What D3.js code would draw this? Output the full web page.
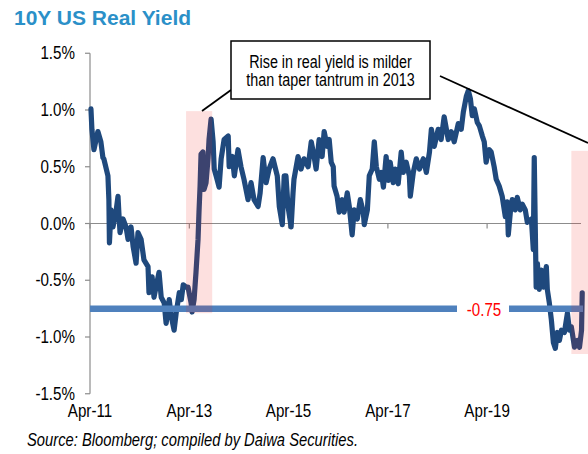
<!DOCTYPE html>
<html>
<head>
<meta charset="utf-8">
<script src="https://cdn.jsdelivr.net/npm/d3@7"></script>
<style>
  body { margin: 0; background: #fff; }
  text { font-family: "Liberation Sans", Arial, sans-serif; }
</style>
</head>
<body>
<svg id="chart"></svg>
<script>
// 10Y US real yield, %
var dates = [
  "2011-04-08","2011-04-15","2011-04-30","2011-05-29","2011-06-20","2011-07-05","2011-07-12","2011-08-11",
  "2011-08-18","2011-08-22","2011-09-03","2011-09-17","2011-10-09","2011-10-24","2011-11-01","2011-11-08",
  "2011-11-30","2011-12-22","2012-01-06","2012-01-28","2012-02-12","2012-03-05","2012-03-19","2012-04-11",
  "2012-05-02","2012-06-01","2012-06-08","2012-07-01","2012-07-15","2012-07-30","2012-08-21","2012-09-06",
  "2012-09-28","2012-10-12","2012-11-04","2012-11-19","2012-12-10","2012-12-25","2013-01-17","2013-02-01",
  "2013-02-15","2013-03-08","2013-03-22","2013-04-14","2013-04-21","2013-05-06","2013-05-20","2013-06-04",
  "2013-06-11","2013-06-19","2013-06-26","2013-07-10","2013-07-18","2013-08-02","2013-08-17","2013-08-24",
  "2013-09-08","2013-09-23","2013-10-01","2013-10-15","2013-11-06","2013-11-21","2013-12-13","2014-01-12",
  "2014-01-19","2014-02-11","2014-02-26","2014-03-25","2014-04-16","2014-05-08","2014-06-07","2014-06-29",
  "2014-07-21","2014-08-20","2014-09-04","2014-09-26","2014-10-18","2014-11-09","2014-12-08","2015-01-08",
  "2015-01-23","2015-02-14","2015-02-28","2015-03-13","2015-03-28","2015-04-20","2015-05-04","2015-05-11",
  "2015-06-10","2015-07-02","2015-07-24","2015-08-23","2015-09-15","2015-10-06","2015-10-21","2015-11-12",
  "2015-12-04","2015-12-19","2016-01-10","2016-01-25","2016-02-09","2016-02-24","2016-03-01","2016-03-23",
  "2016-04-08","2016-04-30","2016-05-14","2016-06-06","2016-06-21","2016-07-12","2016-07-27","2016-08-19",
  "2016-09-10","2016-10-02","2016-10-09","2016-11-01","2016-11-15","2016-12-07","2016-12-22","2017-01-06",
  "2017-01-28","2017-02-12","2017-02-27","2017-03-19","2017-04-03","2017-04-18","2017-05-10","2017-05-25",
  "2017-06-16","2017-07-08","2017-07-23","2017-08-14","2017-09-06","2017-09-13","2017-10-05","2017-10-27",
  "2017-11-19","2017-12-18","2018-01-09","2018-02-01","2018-02-15","2018-03-08","2018-04-06","2018-04-28",
  "2018-05-20","2018-06-19","2018-07-11","2018-08-02","2018-09-01","2018-09-23","2018-10-08","2018-10-30",
  "2018-11-14","2018-11-29","2018-12-13","2018-12-28","2019-01-19","2019-02-03","2019-02-25","2019-03-11",
  "2019-03-25","2019-04-02","2019-04-17","2019-05-01","2019-05-23","2019-06-07","2019-06-29","2019-07-21",
  "2019-08-13","2019-08-27","2019-09-04","2019-09-19","2019-10-03","2019-10-25","2019-11-09","2019-12-01",
  "2019-12-16","2020-01-07","2020-01-22","2020-02-21","2020-03-06","2020-03-13","2020-03-20","2020-03-27",
  "2020-04-05","2020-04-19","2020-05-04","2020-05-19","2020-06-10","2020-06-17","2020-07-02","2020-07-17",
  "2020-08-01","2020-08-15","2020-08-30","2020-09-14","2020-09-29","2020-10-21","2020-11-12","2020-11-27",
  "2020-12-11","2021-01-03","2021-01-25","2021-02-09","2021-02-24","2021-03-01"
];
var realYield = [
  1.01, 0.83, 0.65, 0.81, 0.72, 0.58, 0.57, 0.42,
  0.21, -0.17, 0.12, -0.03, 0.10, 0.24, 0.06, -0.08,
  0.04, -0.03, -0.14, -0.03, -0.20, -0.35, -0.08, -0.14,
  -0.32, -0.38, -0.61, -0.47, -0.65, -0.56, -0.43, -0.65,
  -0.70, -0.88, -0.67, -0.82, -0.94, -0.79, -0.61, -0.67,
  -0.54, -0.56, -0.56, -0.70, -0.78, -0.67, -0.43, -0.14,
  0.10, 0.33, 0.61, 0.63, 0.30, 0.36, 0.58, 0.74,
  0.92, 0.72, 0.48, 0.42, 0.32, 0.57, 0.74, 0.77,
  0.50, 0.59, 0.42, 0.65, 0.50, 0.39, 0.21, 0.36,
  0.21, 0.15, 0.27, 0.58, 0.36, 0.48, 0.57, 0.42,
  0.15, -0.01, 0.42, 0.42, 0.15, -0.03, 0.27, 0.39,
  0.59, 0.48, 0.57, 0.50, 0.72, 0.59, 0.48, 0.74,
  0.59, 0.81, 0.68, 0.74, 0.54, 0.50, 0.33, 0.24,
  0.10, 0.21, 0.10, 0.27, 0.15, -0.10, 0.12, 0.04,
  0.21, 0.10, -0.01, 0.12, 0.42, 0.48, 0.72, 0.50,
  0.39, 0.45, 0.32, 0.59, 0.38, 0.54, 0.36, 0.48,
  0.35, 0.63, 0.45, 0.54, 0.42, 0.24, 0.45, 0.57,
  0.48, 0.57, 0.45, 0.63, 0.83, 0.68, 0.83, 0.74,
  0.94, 0.74, 0.81, 0.72, 0.88, 0.83, 0.98, 1.12,
  1.17, 1.10, 0.95, 1.01, 0.89, 0.86, 0.77, 0.72,
  0.54, 0.59, 0.65, 0.63, 0.50, 0.39, 0.33, 0.24,
  0.06, 0.19, -0.10, 0.10, 0.21, 0.12, 0.23, 0.12,
  0.17, 0.12, 0.01, 0.04, -0.23, 0.58, 0.01, -0.56,
  -0.35, -0.58, -0.41, -0.56, -0.38, -0.58, -0.70, -0.85,
  -1.05, -1.10, -0.96, -1.03, -0.94, -0.96, -0.79, -0.94,
  -0.91, -1.09, -1.03, -1.09, -0.94, -0.61
];

var yTicks = [1.5, 1.0, 0.5, 0.0, -0.5, -1.0, -1.5];
var xTicks = ["2011-04-01", "2013-04-01", "2015-04-01", "2017-04-01", "2019-04-01"];
var threshold = -0.75;

// shaded periods: taper tantrum 2013 and the latest rise
var shadeFrom = ["2013-03-08", "2020-12-11"];
var shadeTo   = ["2013-09-16", "2021-04-30"];
var shadeHigh = [0.99, 0.64];
var shadeLow  = [-0.79, -1.15];

var width = 588, height = 454;
var NARROW = 0.82; // reference uses a narrow face

var parse = d3.timeParse("%Y-%m-%d");
var fmtTick = d3.timeFormat("%b-%y");

var svg = d3.select("#chart")
  .attr("width", width)
  .attr("height", height);

var x = d3.scaleTime()
  .domain([parse("2011-04-01"), parse("2021-02-20")])
  .range([90, 581]);

var y = d3.scaleLinear()
  .domain([-1.5, 1.5])
  .range([393.75, 53.25]);

// helper: text squeezed horizontally
function narrowText(g, px, py, str, size, anchor) {
  return g.append("g")
    .attr("transform", "translate(" + px + "," + py + ") scale(" + NARROW + ",1)")
    .append("text")
    .attr("text-anchor", anchor)
    .attr("dominant-baseline", "central")
    .attr("font-size", size)
    .attr("fill", "#000")
    .text(str);
}

// title
svg.append("text")
  .attr("x", 14)
  .attr("y", 25)
  .attr("font-size", 21)
  .attr("font-weight", "bold")
  .attr("fill", "#2b90c8")
  .text("10Y US Real Yield");

// y axis
var axisG = svg.append("g");
axisG.append("line")
  .attr("x1", 90).attr("x2", 90)
  .attr("y1", y(1.5)).attr("y2", y(-1.5))
  .attr("stroke", "#8c8c8c").attr("stroke-width", 1.2);

yTicks.forEach(function(v) {
  axisG.append("line")
    .attr("x1", 85).attr("x2", 90)
    .attr("y1", y(v)).attr("y2", y(v))
    .attr("stroke", "#8c8c8c").attr("stroke-width", 1.2);
  narrowText(axisG, 75, y(v), v.toFixed(1) + "%", 18.5, "end");
});

// zero line with date ticks
axisG.append("line")
  .attr("x1", 90).attr("x2", x.range()[1])
  .attr("y1", y(0)).attr("y2", y(0))
  .attr("stroke", "#8c8c8c").attr("stroke-width", 1.2);

xTicks.forEach(function(s) {
  var d = parse(s);
  axisG.append("line")
    .attr("x1", x(d)).attr("x2", x(d))
    .attr("y1", y(0)).attr("y2", y(0) + 5)
    .attr("stroke", "#8c8c8c").attr("stroke-width", 1.2);
  narrowText(axisG, x(d), 411, fmtTick(d), 18.5, "middle");
});

// the series
var series = dates.map(function(s, i) { return { date: parse(s), value: realYield[i] }; });

var line = d3.line()
  .x(function(d) { return x(d.date); })
  .y(function(d) { return y(d.value); });

svg.append("path")
  .datum(series)
  .attr("d", line)
  .attr("fill", "none")
  .attr("stroke", "#1f497d")
  .attr("stroke-width", 5.2)
  .attr("stroke-linejoin", "round")
  .attr("stroke-linecap", "round");

// -0.75 reference line
svg.append("line")
  .attr("x1", 90).attr("x2", 583)
  .attr("y1", y(threshold)).attr("y2", y(threshold))
  .attr("stroke", "#4f81bd")
  .attr("stroke-width", 6.5);

// shaded periods
svg.selectAll("rect.shade")
  .data(shadeFrom)
  .enter().append("rect")
  .attr("class", "shade")
  .attr("x", function(d) { return x(parse(d)); })
  .attr("width", function(d, i) { return x(parse(shadeTo[i])) - x(parse(d)); })
  .attr("y", function(d, i) { return y(shadeHigh[i]); })
  .attr("height", function(d, i) { return y(shadeLow[i]) - y(shadeHigh[i]); })
  .attr("fill", "#f0261a")
  .attr("fill-opacity", 0.14);

// label on the reference line
svg.append("rect")
  .attr("x", 457).attr("y", y(threshold) - 6)
  .attr("width", 52).attr("height", 12)
  .attr("fill", "#fff");
narrowText(svg, 484, y(threshold) + 1, threshold.toFixed(2), 18.5, "middle")
  .attr("fill", "#ff0000");

// annotation box and leader lines
svg.append("line")
  .attr("x1", 231).attr("y1", 90).attr("x2", 202).attr("y2", 111)
  .attr("stroke", "#000").attr("stroke-width", 1.8);
svg.append("line")
  .attr("x1", 440).attr("y1", 76).attr("x2", 588).attr("y2", 143)
  .attr("stroke", "#000").attr("stroke-width", 1.8);

svg.append("rect")
  .attr("x", 231).attr("y", 41)
  .attr("width", 199).attr("height", 58)
  .attr("fill", "#fff")
  .attr("stroke", "#000")
  .attr("stroke-width", 1.5);

narrowText(svg, 330.5, 62, "Rise in real yield is milder", 17.5, "middle");
narrowText(svg, 330.5, 80, "than taper tantrum in 2013", 17.5, "middle");

// source
svg.append("g")
  .attr("transform", "translate(27,446) scale(" + NARROW + ",1)")
  .append("text")
  .attr("font-size", 18)
  .attr("font-style", "italic")
  .attr("fill", "#000")
  .text("Source: Bloomberg; compiled by Daiwa Securities.");
</script>
</body>
</html>
